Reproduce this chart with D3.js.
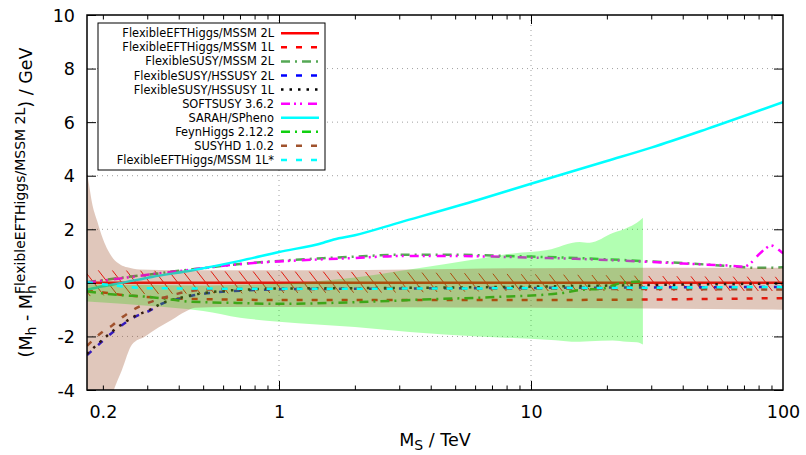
<!DOCTYPE html>
<html><head><meta charset="utf-8">
<script src="https://cdn.jsdelivr.net/npm/d3@7"></script>
<style>body{margin:0;background:#fff} svg{display:block} text{font-family:"DejaVu Sans",sans-serif;fill:#000}</style>
</head><body><svg id="c" width="806" height="455"></svg>
<script>
// ---------- data (M_S in TeV, Delta M_h in GeV) ----------
const xTickLabels = [0.2, 1, 10, 100];
const yTickValues = [-4, -2, 0, 2, 4, 6, 8, 10];
const legendLabels = ["FlexibleEFTHiggs/MSSM 2L","FlexibleEFTHiggs/MSSM 1L","FlexibleSUSY/MSSM 2L","FlexibleSUSY/HSSUSY 2L","FlexibleSUSY/HSSUSY 1L","SOFTSUSY 3.6.2","SARAH/SPheno","FeynHiggs 2.12.2","SUSYHD 1.0.2","FlexibleEFTHiggs/MSSM 1L*"];

const eft2L = [[0.173,0],[100,0]];
const eft2LBand = [[0.173,-0.5,0.47],[0.3,-0.42,0.45],[1,-0.38,0.42],[3,-0.36,0.4],[10,-0.3,0.32],[30,-0.3,0.26],[100,-0.3,0.22]];
const eft1L = [[0.173,-0.3],[0.2,-0.36],[0.24,-0.45],[0.33,-0.55],[0.6,-0.62],[1,-0.64],[3,-0.64],[10,-0.64],[30,-0.62],[100,-0.57]];
const fsMssm2L = [[0.173,0.02],[0.2,0.1],[0.25,0.22],[0.3,0.3],[0.4,0.45],[0.5,0.55],[0.7,0.7],[1,0.82],[1.5,0.92],[2,0.98],[3,1.05],[5,1.05],[7,1.02],[10,0.98],[15,0.93],[20,0.88],[30,0.8],[40,0.74],[60,0.63],[80,0.56],[100,0.58]];
const hssusy2L = [[0.173,-2.7],[0.19,-2.35],[0.217,-1.87],[0.268,-1.27],[0.308,-1.03],[0.343,-0.78],[0.405,-0.58],[0.45,-0.48],[0.6,-0.33],[0.8,-0.27],[1,-0.24],[2,-0.22],[5,-0.2],[10,-0.19],[30,-0.17],[100,-0.15]];
const hssusy1L = [[0.173,-2.65],[0.19,-2.3],[0.217,-1.83],[0.268,-1.24],[0.308,-1.0],[0.343,-0.76],[0.405,-0.56],[0.45,-0.46],[0.6,-0.3],[0.8,-0.24],[1,-0.21],[3,-0.19],[10,-0.14],[30,-0.08],[100,-0.02]];
const softsusy = [[0.173,0.02],[0.2,0.08],[0.25,0.2],[0.3,0.3],[0.4,0.44],[0.5,0.55],[0.7,0.7],[1,0.8],[1.5,0.88],[2,0.93],[3,1.0],[5,1.0],[7,0.98],[10,0.94],[15,0.9],[20,0.85],[30,0.78],[40,0.72],[50,0.68],[60,0.65],[70,0.6],[74,0.72],[80,1.05],[85,1.27],[89.6,1.4],[94,1.3],[100,1.1]];
const spheno = [[0.173,-0.26],[0.2,-0.13],[0.238,0.0],[0.313,0.22],[0.46,0.48],[0.7,0.82],[1,1.15],[1.5,1.5],[1.65,1.62],[2,1.78],[3,2.25],[6.2,3.1],[10,3.7],[20,4.55],[30,5.05],[50,5.75],[100,6.75]];
const feynhiggs = [[0.173,-0.32],[0.23,-0.45],[0.3,-0.52],[0.38,-0.63],[0.44,-0.7],[0.68,-0.75],[0.95,-0.78],[1.1,-0.78],[1.72,-0.74],[2.34,-0.7],[3.56,-0.63],[4.27,-0.6],[6.04,-0.56],[7.56,-0.52],[9.3,-0.49],[11.0,-0.45],[13.2,-0.38],[15.9,-0.26],[19.1,-0.22],[22.9,0.0],[27.8,0.05]];
const feynhiggsBand = [[0.173,-0.7,-0.05],[0.2,-0.73,-0.06],[0.3,-0.85,-0.08],[0.5,-1.05,-0.1],[0.7,-1.3,-0.07],[1,-1.45,-0.03],[2,-1.65,0.2],[3.3,-1.83,0.5],[6.2,-2.0,0.9],[8.5,-2.06,1.1],[11.6,-2.12,1.23],[15.6,-2.2,1.53],[17.1,-2.18,1.5],[21.1,-2.15,1.86],[24,-2.2,2.05],[26.3,-2.22,2.24],[27.8,-2.3,2.43]];
const susyhd = [[0.173,-2.35],[0.178,-2.24],[0.195,-1.9],[0.219,-1.57],[0.24,-1.27],[0.27,-0.95],[0.308,-0.72],[0.347,-0.56],[0.394,-0.41],[0.45,-0.3],[0.6,-0.23],[1,-0.22],[10,-0.22],[30,-0.23],[100,-0.25]];
const susyhdUpper = [[0.173,4.1],[0.176,3.7],[0.181,3.0],[0.19,2.3],[0.2,1.65],[0.21,1.2],[0.22,0.9],[0.235,0.68],[0.25,0.58],[0.28,0.5],[0.4,0.47],[1,0.47],[5,0.52],[10,0.55],[100,0.56]];
const susyhdLower = [[0.173,-8],[0.204,-5],[0.219,-4.1],[0.238,-3.25],[0.261,-2.3],[0.294,-2.0],[0.331,-1.68],[0.376,-1.38],[0.424,-1.08],[0.464,-0.93],[0.6,-0.9],[1,-0.9],[10,-0.93],[100,-1.0]];
const eft1Lstar = [[0.173,0.02],[0.2,-0.05],[0.25,-0.15],[0.3,-0.2],[1,-0.22],[10,-0.2],[30,-0.18],[100,-0.15]];

// ---------- layout ----------
const L=87,R=783,T=15,B=390;
const svg=d3.select("#c");
const x=d3.scaleLog().domain([0.173,100]).range([L,R]);
const y=d3.scaleLinear().domain([-4,10]).range([B,T]);

const defs=svg.append("defs");
defs.append("clipPath").attr("id","clip").append("rect").attr("x",L).attr("y",T).attr("width",R-L).attr("height",B-T);
const pat=defs.append("pattern").attr("id","hatch").attr("patternUnits","userSpaceOnUse").attr("width",14).attr("height",18);
pat.append("path").attr("d","M0,0L14,18M-14,0L0,18M14,0L28,18M0,-18L14,0M0,18L14,36").attr("stroke","#ff0000").attr("stroke-width",1).attr("fill","none");

// grid
const grid=svg.append("g").attr("stroke","#a0a0a0").attr("stroke-width",1).attr("stroke-dasharray","1,4");
grid.selectAll("line.h").data(yTickValues.filter(v=>v>-4&&v<10)).join("line")
  .attr("x1",L).attr("x2",R).attr("y1",d=>y(d)).attr("y2",d=>y(d));
grid.selectAll("line.v").data([1,10]).join("line").attr("class","v")
  .attr("x1",d=>x(d)).attr("x2",d=>x(d)).attr("y1",T).attr("y2",B);

const plot=svg.append("g").attr("clip-path","url(#clip)");
const line=d3.line().x(d=>x(d[0])).y(d=>y(d[1])).curve(d3.curveMonotoneX);
const areaBand=d3.area().x(d=>x(d[0])).y0(d=>y(d[1])).y1(d=>y(d[2])).curve(d3.curveMonotoneX);

const styles=[
 {c:"#ff0000",dash:null,w:2.5},
 {c:"#ff0000",dash:"6,9",w:2.5},
 {c:"#55a855",dash:"9,5,2,5",w:2.5},
 {c:"#0000ff",dash:"6,9",w:2.5},
 {c:"#000000",dash:"2.5,6",w:2.5},
 {c:"#ff00ff",dash:"9,4,2,4,2,6",w:2.5},
 {c:"#00ffff",dash:null,w:2.5},
 {c:"#10d010",dash:"9,5,2,5",w:2.5},
 {c:"#a0522d",dash:"6,9",w:2.5},
 {c:"#00ffff",dash:"6,9",w:2.5}
];
function drawLine(data,i){
  const s=styles[i];
  plot.append("path").datum(data).attr("d",line).attr("fill","none")
    .attr("stroke",s.c).attr("stroke-width",s.w).attr("stroke-dasharray",s.dash);
}
// hatched band for FlexibleEFTHiggs 2L
plot.append("path").datum(eft2LBand).attr("d",areaBand).attr("fill","url(#hatch)");
drawLine(eft2L,0);
drawLine(eft1L,1);
drawLine(fsMssm2L,2);
drawLine(hssusy2L,3);
drawLine(hssusy1L,4);
drawLine(softsusy,5);
drawLine(spheno,6);
// FeynHiggs band + line
plot.append("path").datum(feynhiggsBand).attr("d",areaBand).attr("fill","#00ff00").attr("fill-opacity",0.3);
drawLine(feynhiggs,7);
// SUSYHD band + line
const upperLine=d3.line().x(d=>x(d[0])).y(d=>y(d[1])).curve(d3.curveMonotoneX);
const up=upperLine(susyhdUpper);
const lo=upperLine(susyhdLower.slice().reverse()).replace(/^M/,"L");
plot.append("path").attr("d",up+lo+"Z").attr("fill","#a0522d").attr("fill-opacity",0.32);
drawLine(susyhd,8);
drawLine(eft1Lstar,9);

// axes
const minorX=[];
[0.1,1,10].forEach(p=>{for(let k=2;k<=9;k++){const v=+(k*p).toPrecision(3); if(v>=0.173&&v<100)minorX.push(v);}});
function styleAxis(g){g.select(".domain").remove();g.selectAll("line").attr("stroke","#000").attr("stroke-width",1);}
svg.append("g").attr("transform",`translate(0,${B})`).call(d3.axisBottom(x).tickValues(minorX).tickSize(-4.5).tickFormat("")).call(styleAxis);
svg.append("g").attr("transform",`translate(0,${B})`).call(d3.axisBottom(x).tickValues([1,10]).tickSize(-9).tickFormat("")).call(styleAxis);
svg.append("g").attr("transform",`translate(0,${T})`).call(d3.axisTop(x).tickValues(minorX).tickSize(-4.5).tickFormat("")).call(styleAxis);
svg.append("g").attr("transform",`translate(0,${T})`).call(d3.axisTop(x).tickValues([1,10]).tickSize(-9).tickFormat("")).call(styleAxis);
const xl=svg.append("g").attr("transform",`translate(0,${B})`).call(d3.axisBottom(x).tickValues(xTickLabels).tickSize(0).tickFormat(d=>String(d))).call(styleAxis);
xl.selectAll("text").attr("y",28).attr("dy",0).attr("font-size",17.5).attr("font-family","DejaVu Sans").attr("fill","#000");
const yl=svg.append("g").attr("transform",`translate(${L},0)`).call(d3.axisLeft(y).tickValues(yTickValues).tickSize(-9).tickPadding(21).tickFormat(d=>String(d))).call(styleAxis);
yl.selectAll("text").attr("font-size",17.5).attr("font-family","DejaVu Sans").attr("fill","#000").attr("dy","0.35em").attr("x",-12);
svg.append("g").attr("transform",`translate(${R},0)`).call(d3.axisRight(y).tickValues(yTickValues).tickSize(-9).tickFormat("")).call(styleAxis);

// frame
svg.append("rect").attr("x",L).attr("y",T).attr("width",R-L).attr("height",B-T).attr("fill","none").attr("stroke","#000").attr("stroke-width",1.5);

// legend
const lg=svg.append("g");
lg.append("rect").attr("x",98).attr("y",23).attr("width",227).attr("height",147).attr("fill","#fff").attr("stroke","#000").attr("stroke-width",1);
legendLabels.forEach((t,i)=>{
  const yy=33.3+i*14.07, s=styles[i];
  lg.append("text").attr("x",274).attr("y",yy+4).attr("text-anchor","end").attr("font-size",11.4).text(t);
  lg.append("line").attr("x1",281).attr("x2",319).attr("y1",yy).attr("y2",yy).attr("stroke",s.c).attr("stroke-width",s.w).attr("stroke-dasharray",s.dash);
});

// axis titles
const xt=svg.append("text").attr("x",435).attr("y",446).attr("text-anchor","middle").attr("font-size",17.5);
xt.append("tspan").text("M");
xt.append("tspan").attr("font-size",14).attr("dy",4).text("S");
xt.append("tspan").attr("dy",-4).text(" / TeV");

const yt=svg.append("text").attr("transform",`translate(32,202.5) rotate(-90)`).attr("text-anchor","middle").attr("font-size",17.5);
yt.append("tspan").text("(M");
yt.append("tspan").attr("font-size",14).attr("dy",4).text("h");
yt.append("tspan").attr("dy",-4).text(" - M");
const hs=yt.append("tspan").attr("font-size",14).attr("dy",4).text("h");
const sp=yt.append("tspan").attr("font-size",14).attr("dy",-11).text("FlexibleEFTHiggs/MSSM 2L");
yt.append("tspan").attr("dy",7).text(") / GeV");
sp.attr("dx",-hs.node().getComputedTextLength());
</script></body></html>
